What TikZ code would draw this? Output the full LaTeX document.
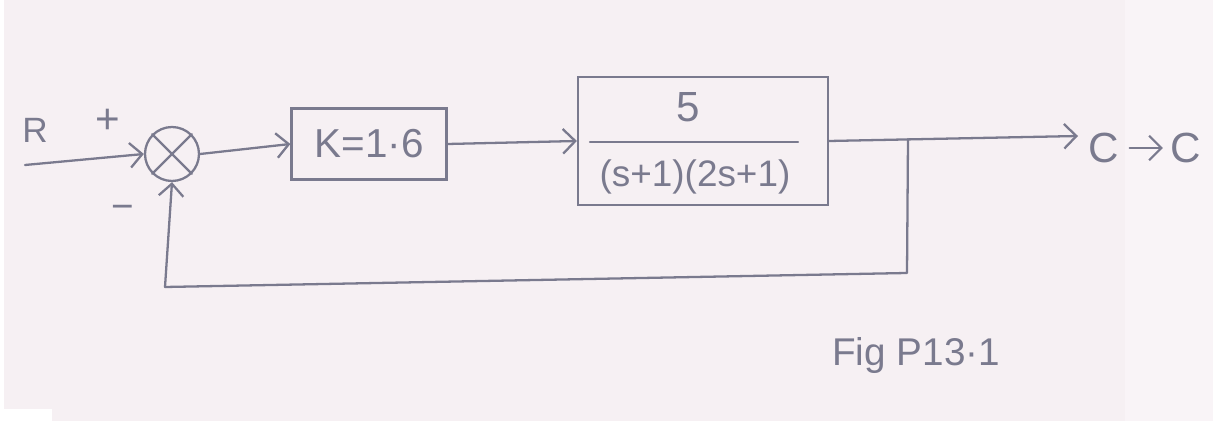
\documentclass[tikz,border=0pt]{standalone}
\usepackage{fontspec}
\setmainfont{Liberation Sans}
\usetikzlibrary{arrows.meta}
\definecolor{ink}{HTML}{7A7A8E}
\definecolor{paper}{HTML}{F6F0F3}
\definecolor{paperw}{HTML}{F9F4F7}
\begin{document}
\begin{tikzpicture}[x=0.02cm,y=-0.02cm,
  wire/.style={draw=ink,line width=1.3pt,line cap=round,line join=round},
  arr/.style={wire,-{Straight Barb[length=7pt,width=14pt,line width=1.3pt]}},
  blk/.style={draw=ink,line width=1.3pt,rectangle,inner sep=0pt},
  sumcirc/.style={draw=ink,line width=1.3pt,circle,minimum size=1.08cm,inner sep=0pt},
  lbl/.style={text=ink,inner sep=0pt,font=\fontsize{20}{22}\selectfont}]
% background
\fill[paper] (0,0) rectangle (1213,421);
\fill[paperw] (1125,0) rectangle (1213,421);
\fill[white] (0,409) rectangle (52,421);
\fill[white] (0,0) rectangle (4,409);
\useasboundingbox (0,0) rectangle (1213,421);
% nodes
\node[sumcirc] (sum) at (172,154) {};
\draw[wire] (sum.north west) -- (sum.south east) (sum.north east) -- (sum.south west);
\node[blk,minimum width=3.1cm,minimum height=1.42cm] (k) at (369,144) {};
\node[lbl,font=\fontsize{23}{25}\selectfont] (ktext) at (k.center) {K=1·6};
\node[blk,minimum width=5.0cm,minimum height=2.56cm] (g) at (703,141) {};
\node[lbl,font=\fontsize{24}{26}\selectfont] (num) at (688,107) {5};
\node[lbl,font=\fontsize{21}{23}\selectfont] (den) at (695,177) {(s+1)(2s+1)};
\coordinate (fl1) at (590,142);
\coordinate (fl2) at (798,142);
\draw[wire] (fl1) -- (fl2);
% labels
\node[lbl,font=\fontsize{20}{22}\selectfont] (R) at (35,130) {R};
\node[lbl,font=\fontsize{24}{26}\selectfont] (plus) at (108,121) {+};
\node[lbl,font=\fontsize{22}{24}\selectfont] (minus) at (123,212) {−};
\node[lbl,font=\fontsize{24}{26}\selectfont,anchor=west] (c1) at (1088,148) {C};
\node[lbl,font=\fontsize{24}{26}\selectfont,anchor=west] (c2) at (1170,148) {C};
\node[lbl,font=\fontsize{22}{24}\selectfont,anchor=west] (fig) at (832,356) {Fig P13·1};
% coordinates
\coordinate (in) at (25,165);
\coordinate (br) at (908,139);
\coordinate (oe) at (1078,136);
\coordinate (fb1) at (907,273);
\coordinate (fb2) at (165,287);
% connectors
\draw[arr] (in) -- (sum.west);
\draw[arr] (sum.east) -- (k.west);
\draw[arr] (k.east) -- (g.west);
\draw[arr] (g.east) -- (oe);
\draw[wire] (br) -- (fb1) -- (fb2);
\draw[arr] (fb2) -- (sum.south);
\draw[arr] ([xshift=6pt]c1.east) -- ([xshift=-4pt]c2.west);
\end{tikzpicture}
\end{document}
